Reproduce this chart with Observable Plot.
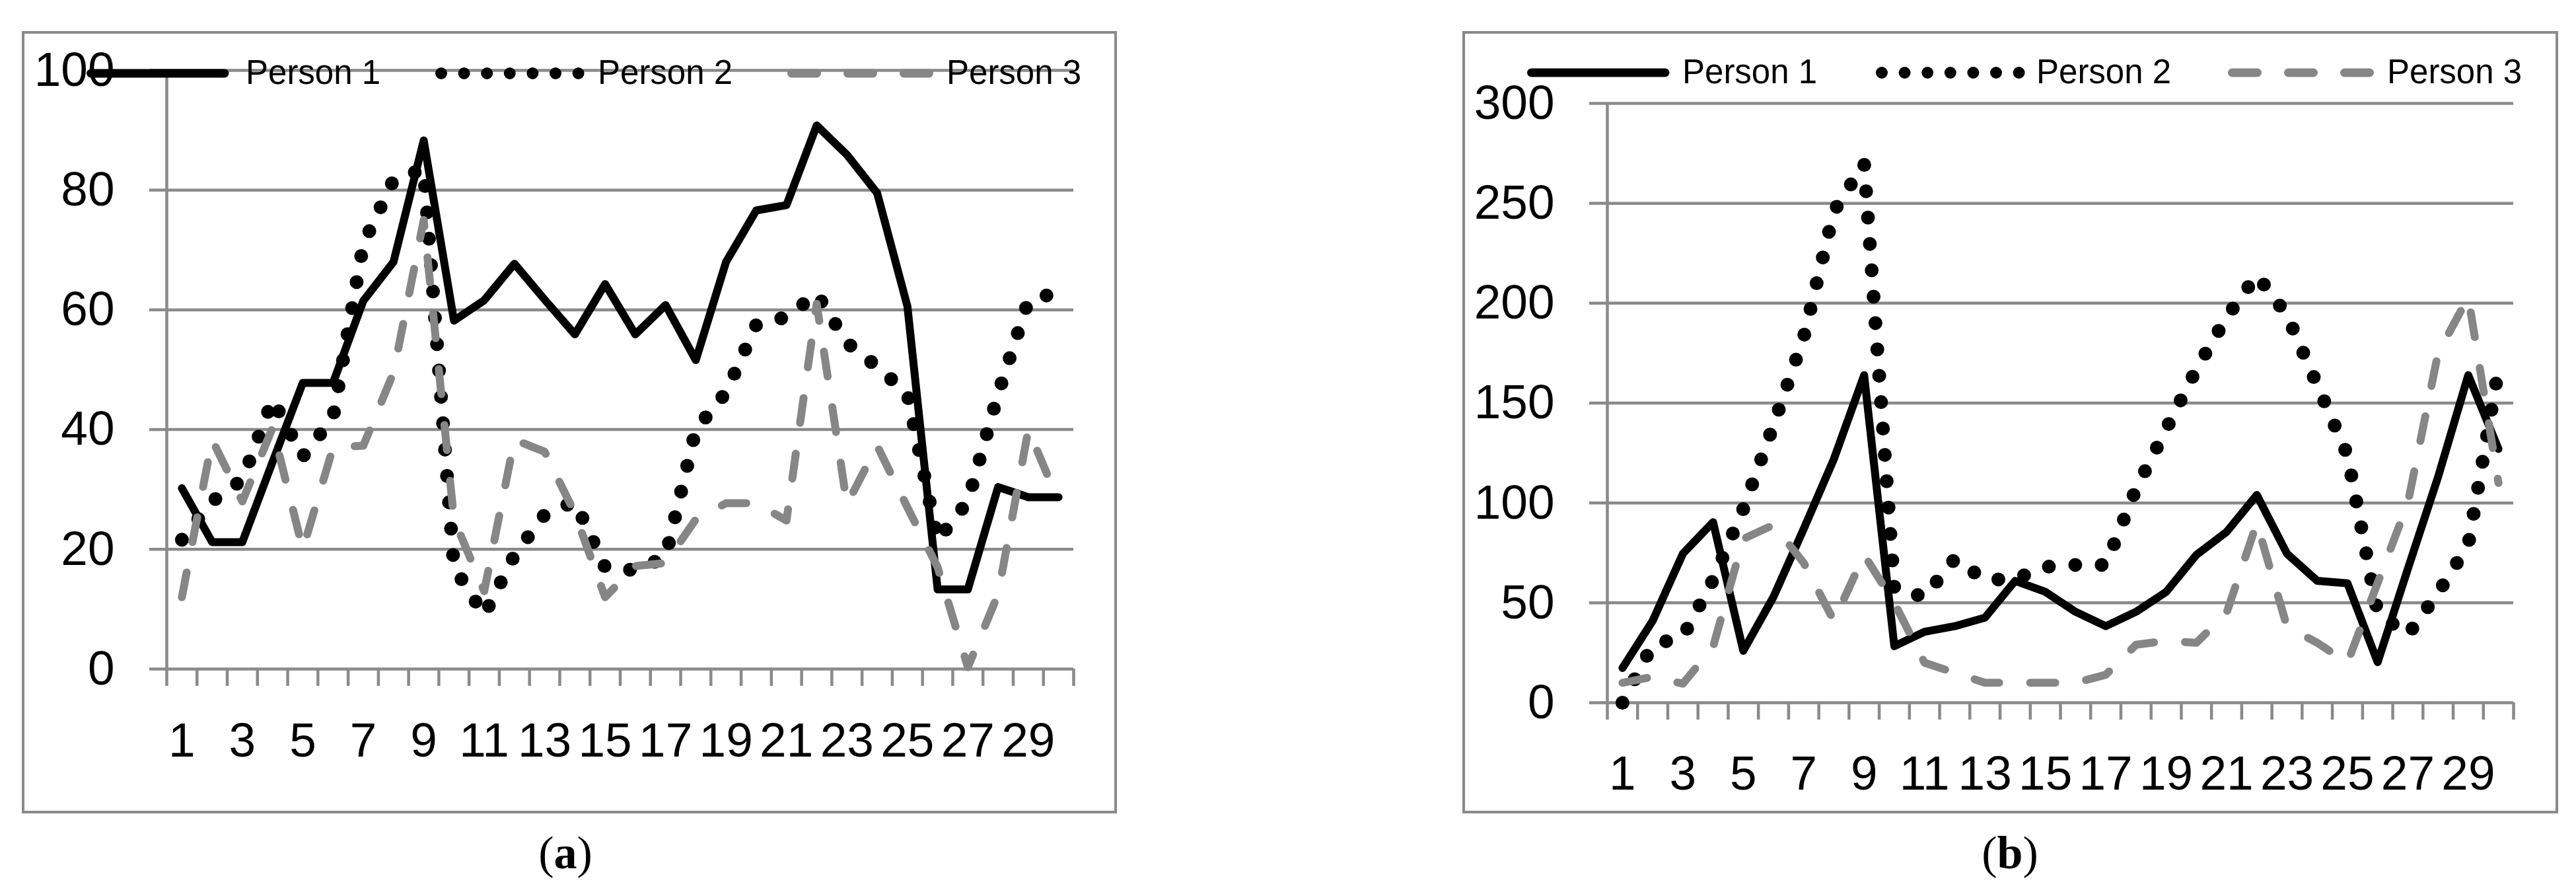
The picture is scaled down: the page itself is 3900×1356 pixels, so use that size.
<!DOCTYPE html>
<html>
<head>
<meta charset="utf-8">
<script src="https://cdn.jsdelivr.net/npm/d3@7"></script>
<script src="https://cdn.jsdelivr.net/npm/@observablehq/plot@0.6"></script>
<style>
  html, body { margin: 0; padding: 0; background: #fff; }
  body { width: 3900px; height: 1356px; position: relative; overflow: hidden; font-family: "Liberation Sans", Arial, sans-serif; }
  .box { position: absolute; box-sizing: border-box; border: 4px solid #8a8a8a; }
  .plot { position: absolute; }
  .cap { position: absolute; font-family: "Liberation Serif", "Times New Roman", serif; font-size: 70px; line-height: 1; color: #000; transform: translateX(-50%); white-space: nowrap; }
  .cap b { font-weight: bold; }
  #legend { position: absolute; left: 0; top: 0; pointer-events: none; }
</style>
</head>
<body>
<div class="box" style="left:33px;top:47px;width:1658px;height:1184px"></div>
<div class="box" style="left:2214px;top:47px;width:1659px;height:1184px"></div>
<div id="plotA" class="plot" style="left:35px;top:49px"></div>
<div id="plotB" class="plot" style="left:2216px;top:49px"></div>
<div class="cap" style="left:856px;top:1256px">(<b>a</b>)</div>
<div class="cap" style="left:3043px;top:1256px">(<b>b</b>)</div>
<svg id="legend" width="3900" height="1356"></svg>
<script>
// ---------- data ----------
const days = [1,2,3,4,5,6,7,8,9,10,11,12,13,14,15,16,17,18,19,20,21,22,23,24,25,26,27,28,29,30];
const xTickLabels = [1,3,5,7,9,11,13,15,17,19,21,23,25,27,29];
const seriesNames = ["Person 1", "Person 2", "Person 3"];

// panel (a)
const yTicksA = [0, 20, 40, 60, 80, 100];
const person1A = [30.2, 21.2, 21.2, 34.6, 47.8, 47.8, 61.5, 68, 88.3, 58.2, 61.6, 67.7, 61.7, 55.9, 64.3, 55.9, 60.8, 51.6, 68, 76.6, 77.5, 90.8, 85.9, 79.5, 60.6, 13.3, 13.3, 30.4, 28.7, 28.7];
const person2A = [21.6, 28, 31.6, 45, 35.5, 42, 71, 81.7, 83.5, 17, 9, 19, 25.8, 28, 17, 16.5, 18.7, 40, 46.2, 57.5, 58.8, 62.7, 54.5, 50.5, 46, 21.5, 28, 46, 61.5, 63];
const person3A = [12, 38.3, 28, 40.3, 20, 37, 37.3, 49.5, 75, 25, 13, 38.3, 36.3, 26, 12, 17.2, 17.7, 25, 27.7, 27.7, 24.8, 61, 27.5, 37.3, 27, 17, 0.3, 12.5, 40, 28];

// panel (b)
const yTicksB = [0, 50, 100, 150, 200, 250, 300];
const person1B = [17.4, 41, 74.6, 90.4, 26, 53, 87, 122, 164, 28.3, 35.5, 38.3, 42.6, 61, 55.5, 45.5, 38.3, 45.5, 55.5, 74, 85.5, 104, 74.6, 61, 59.8, 20.3, 67, 113, 164, 127];
const person2B = [0, 29, 33, 61.5, 97, 139, 183, 246, 270, 57, 53, 72, 61.5, 62, 68, 69, 69, 107, 137, 167, 193, 214, 194, 159, 124, 45, 34, 55, 79, 167];
const person3B = [10, 13, 9.5, 28, 82, 89, 70, 41, 74, 50, 20, 15, 10, 10, 10, 10, 14, 29, 31, 30, 45, 90, 38, 30, 20, 60, 100, 175, 203, 110];

// ---------- styles ----------
const GRID = "#8a8a8a";
const GRAY = "#868686";
const seriesStyles = [
  {stroke: "#000", strokeWidth: 12, strokeDasharray: null, strokeLinecap: "round"},
  {stroke: "#000", strokeWidth: 21, strokeDasharray: "0 40", strokeLinecap: "round"},
  {stroke: GRAY, strokeWidth: 12, strokeDasharray: "38 47", strokeLinecap: "round"}
];

function rows(values) { return days.map((d, i) => ({day: d, v: values[i]})); }

function panel(el, cfg) {
  const marks = [
    Plot.gridY(cfg.yTicks, {stroke: GRID, strokeOpacity: 1, strokeWidth: 4.5}),
    Plot.axisY(cfg.yTicks, {tickSize: cfg.yTickSize, tickPadding: 53, stroke: GRID, strokeWidth: 4.5, fill: "#000", fontSize: 73, label: null, tickFormat: d => String(d)}),
    Plot.ruleX([0.5], {stroke: GRID, strokeWidth: 4.5}),
    Plot.axisX(d3.range(0.5, 31, 1), {tickSize: 26, stroke: GRID, strokeWidth: 4.5, tickFormat: () => "", label: null}),
    Plot.axisX(xTickLabels, {tickSize: 0, tickPadding: cfg.xPad, fill: "#000", fontSize: 73, label: null, tickFormat: d => String(d)})
  ];
  cfg.series.forEach((s, k) => {
    const st = seriesStyles[k];
    marks.push(Plot.line(rows(s), {x: "day", y: "v", stroke: st.stroke, strokeWidth: st.strokeWidth, strokeDasharray: st.strokeDasharray, strokeLinecap: st.strokeLinecap, strokeLinejoin: "round"}));
  });
  const svg = Plot.plot({
    width: cfg.width, height: cfg.height,
    marginLeft: cfg.ml, marginRight: cfg.mr, marginTop: cfg.mt, marginBottom: cfg.mb,
    x: {domain: [0.5, 30.5]},
    y: {domain: [cfg.yTicks[0], cfg.yTicks[cfg.yTicks.length - 1]]},
    style: {background: "transparent", fontFamily: "'Liberation Sans', Arial, sans-serif", color: "#000", overflow: "visible"},
    marks
  });
  document.getElementById(el).appendChild(svg);
}

panel("plotA", {width: 1654, height: 1180, ml: 217, mr: 64, mt: 57, mb: 217, yTicks: yTicksA, yTickSize: 26, xPad: 81, series: [person1A, person2A, person3A]});
panel("plotB", {width: 1655, height: 1180, ml: 217, mr: 66, mt: 107, mb: 166, yTicks: yTicksB, yTickSize: 27, xPad: 80, series: [person1B, person2B, person3B]});

// ---------- legends ----------
const legendLayouts = [
  {starts: [131, 659, 1192], texts: [372, 905, 1433], y: 111},
  {starts: [2312, 2840, 3373], texts: [2547, 3083, 3614], y: 110}
];
const sampleSpan = [[6.5, 209], [9, 217], [6.5, 214.5]];
const sampleStyles = [
  {w: 13, dash: null},
  {w: 18, dash: "0 34.6"},
  {w: 13, dash: "38 47"}
];
const lg = d3.select("#legend");
legendLayouts.forEach(L => {
  seriesNames.forEach((name, k) => {
    const st = seriesStyles[k], ss = sampleStyles[k];
    lg.append("line")
      .attr("x1", L.starts[k] + sampleSpan[k][0]).attr("x2", L.starts[k] + sampleSpan[k][1])
      .attr("y1", L.y).attr("y2", L.y)
      .attr("stroke", st.stroke).attr("stroke-width", ss.w)
      .attr("stroke-linecap", "round")
      .attr("stroke-dasharray", ss.dash);
    lg.append("text")
      .attr("x", L.texts[k]).attr("y", L.y + 16)
      .attr("font-family", "'Liberation Sans', Arial, sans-serif")
      .attr("font-size", 51).attr("fill", "#000")
      .text(name);
  });
});
</script>
</body>
</html>
